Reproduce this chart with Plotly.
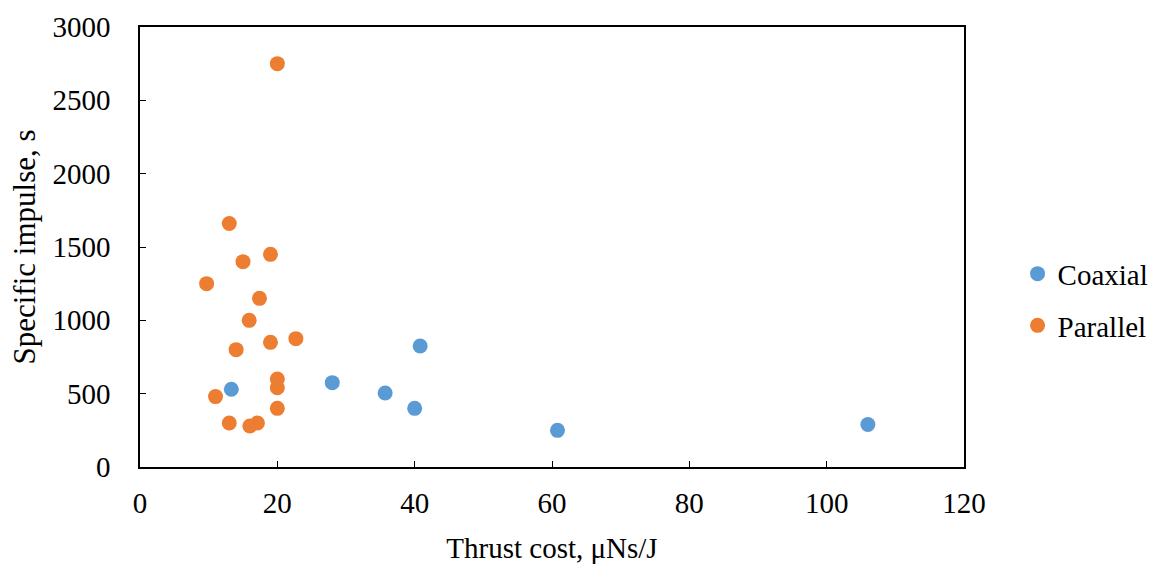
import plotly.graph_objects as go

coax_x = [13.3, 28.0, 35.7, 40.0, 40.8, 60.8, 106.0]
coax_y = [530, 575, 505, 400, 825, 250, 290]

par_x = [20.0, 13.0, 15.0, 19.0, 9.7, 17.4, 15.9, 14.0, 19.0, 22.7, 20.0, 20.0, 11.0, 20.0, 13.0, 16.0, 17.1]
par_y = [2750, 1660, 1400, 1450, 1250, 1150, 1000, 800, 850, 875, 600, 540, 480, 400, 300, 280, 300]

x_ticks = [0, 20, 40, 60, 80, 100, 120]
y_ticks = [0, 500, 1000, 1500, 2000, 2500, 3000]

FONT = "Liberation Serif"

fig = go.Figure()
fig.add_trace(go.Scatter(x=coax_x, y=coax_y, mode="markers", name="Coaxial",
                         legendgroup="a",
                         marker=dict(color="#5B9BD5", size=15)))
fig.add_trace(go.Scatter(x=par_x, y=par_y, mode="markers", name="Parallel",
                         legendgroup="b",
                         marker=dict(color="#ED7D31", size=15)))

axis_common = dict(showline=True, linecolor="black", linewidth=1.5, mirror=True,
                   showgrid=False, zeroline=False, ticks="inside", ticklen=6,
                   tickcolor="black", tickwidth=1, automargin=False,
                   tickfont=dict(family=FONT, size=29, color="black"))

fig.update_xaxes(range=[0, 120], tickvals=x_ticks, ticklabelstandoff=9,
                 title=dict(text="Thrust cost, μNs/J", font=dict(family=FONT, size=29, color="black"), standoff=20),
                 **axis_common)
fig.update_yaxes(range=[0, 3000], tickvals=y_ticks, ticklabelstandoff=22,
                 title=dict(text="Specific impulse, s", font=dict(family=FONT, size=31, color="black"), standoff=8),
                 **axis_common)

fig.update_layout(
    width=1155, height=565,
    font=dict(family=FONT, color="black"),
    margin=dict(l=140, r=191, t=27, b=98, autoexpand=False),
    plot_bgcolor="white", paper_bgcolor="white",
    showlegend=True,
    legend=dict(x=1.065, y=0.38, xanchor="left", yanchor="middle",
                font=dict(family=FONT, size=29, color="black"),
                traceorder="grouped", tracegroupgap=11, itemwidth=30),
)

fig.write_html("out.html")
